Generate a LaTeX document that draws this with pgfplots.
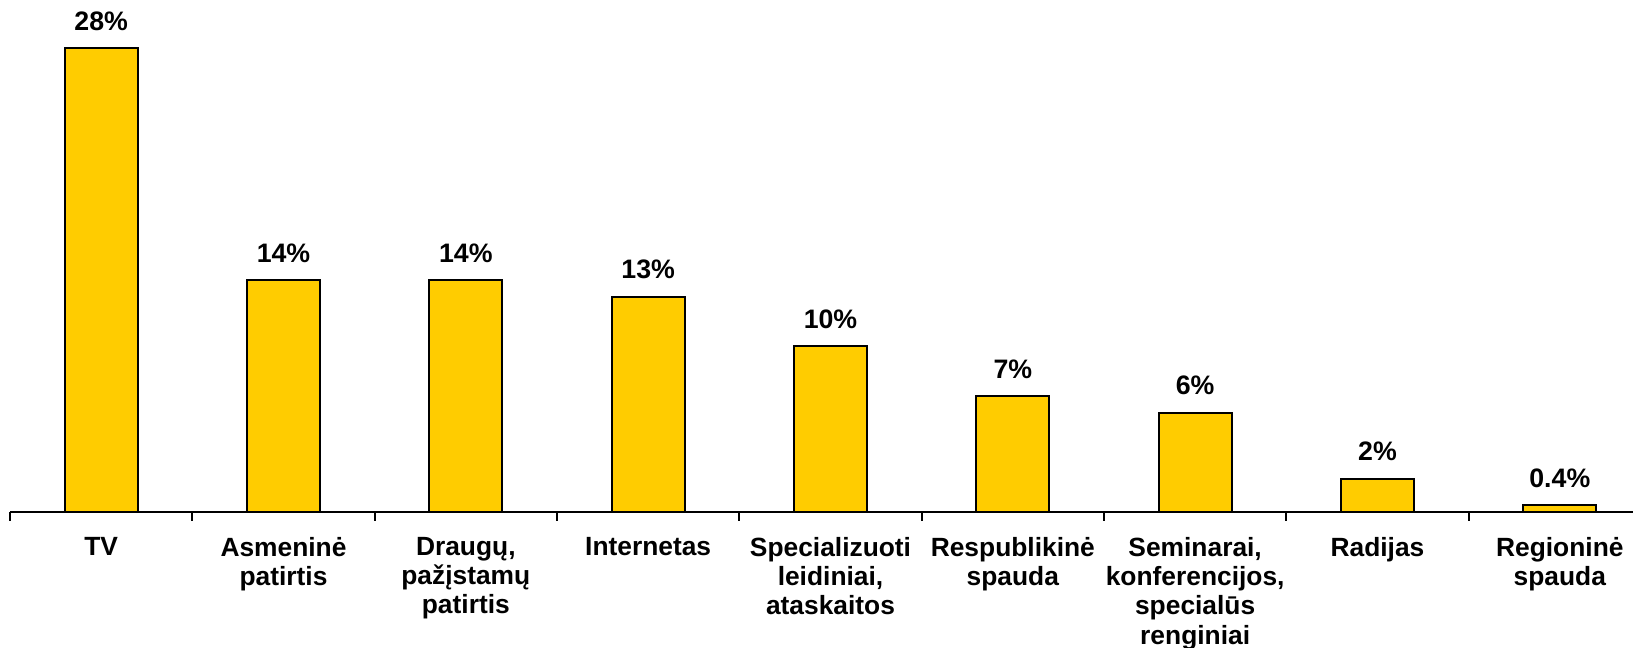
\documentclass[border=0pt]{standalone}
\usepackage{pgfplots}
\pgfplotsset{compat=1.18}
\usepackage{pgfplotstable}
\usepackage{fontspec}
\setmainfont{Liberation Sans}

\definecolor{baryellow}{HTML}{FFCC00}

\pgfplotstableread[col sep=comma]{
x,y,lbl
0,28,28\%
1,14,14\%
2,14,14\%
3,13,13\%
4,10,10\%
5,7,7\%
6,6,6\%
7,2,2\%
8,0.4,0.4\%
}\sources

\begin{document}
\begin{tikzpicture}
\useasboundingbox (0,0) rectangle (16.33cm,6.48cm);
\begin{axis}[
  at={(0.10cm,1.36cm)}, anchor=south west,
  scale only axis,
  width=16.41cm, height=4.97cm,
  xmin=-0.5, xmax=8.5, ymin=0, ymax=30,
  clip=false,
  ybar, bar width=0.73cm, bar shift=0pt,
  hide y axis,
  axis x line*=bottom,
  axis line style={line width=0.6pt},
  xtick={0,...,8},
  major tick length=0pt,
  xticklabels={TV, {Asmeninė\\patirtis}, {Draugų,\\pažįstamų\\patirtis}, Internetas,
    {Specializuoti\\leidiniai,\\ataskaitos}, {Respublikinė\\spauda},
    {Seminarai,\\konferencijos,\\specialūs\\renginiai}, Radijas, {Regioninė\\spauda}},
  xticklabel style={align=center, font=\fontsize{7.5}{8.3}\selectfont\bfseries, yshift=-0.13cm},
  extra x ticks={-0.5,0.5,...,8.5},
  extra x tick labels={},
  extra x tick style={tick align=outside, major tick length=0.09cm,
    tick style={line width=0.6pt, black}},
  nodes near coords,
  point meta=explicit symbolic,
  nodes near coords style={font=\fontsize{7.6}{8.3}\selectfont\bfseries, anchor=south, yshift=0.05cm},
]
\addplot[fill=baryellow, draw=black, line width=0.6pt]
  table[x=x, y=y, meta=lbl] {\sources};
\end{axis}
\end{tikzpicture}
\end{document}
